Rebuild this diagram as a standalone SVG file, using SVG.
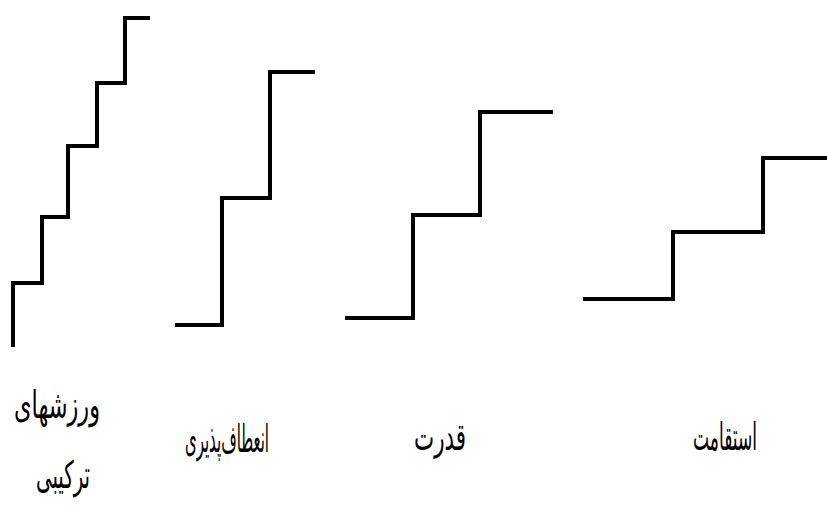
<svg xmlns="http://www.w3.org/2000/svg" width="827" height="506" viewBox="0 0 827 506">
<style>
.step{fill:none;stroke:#000;stroke-width:4;stroke-linejoin:miter;stroke-linecap:butt}
.lbl{font-family:"DejaVu Sans","Noto Sans",sans-serif;font-size:38px;fill:#000;text-anchor:middle}
</style>
<rect width="827" height="506" fill="#fff"/>
<g id="connectors">
<g id="stair-combined"><path class="step" d="M13,347 V283 H42 V217 H68 V146 H97 V83 H125 V18 H150"/></g>
<g id="stair-flexibility"><path class="step" d="M175,325 H222 V198 H270 V72 H315"/></g>
<g id="stair-strength"><path class="step" d="M345,318 H413 V215 H480 V112 H553"/></g>
<g id="stair-endurance"><path class="step" d="M583,299 H673 V232 H763 V158 H827"/></g>
</g>
<g id="label-combined">
<text class="lbl" x="57" y="418" direction="rtl" textLength="86" lengthAdjust="spacingAndGlyphs">ورزشهای</text>
<text class="lbl" x="63" y="488" direction="rtl" textLength="54" lengthAdjust="spacingAndGlyphs">ترکیبی</text>
</g>
<g id="label-flexibility"><text class="lbl" x="227" y="452" direction="rtl" textLength="84" lengthAdjust="spacingAndGlyphs">انعطاف‌پذیری</text></g>
<g id="label-strength"><text class="lbl" x="440" y="450" direction="rtl" textLength="52" lengthAdjust="spacingAndGlyphs">قدرت</text></g>
<g id="label-endurance"><text class="lbl" x="725" y="450" direction="rtl" textLength="64" lengthAdjust="spacingAndGlyphs">استقامت</text></g>
</svg>
